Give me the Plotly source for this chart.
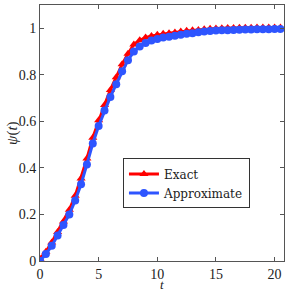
import plotly.graph_objects as go

t = [0, 0.5, 1.0, 1.5, 2.0, 2.5, 3.0, 3.5, 4.0, 4.5, 5.0, 5.5, 6.0, 6.5, 7.0, 7.5,
     8.0, 8.5, 9.0, 9.5, 10.0, 10.5, 11.0, 11.5, 12.0, 12.5, 13.0, 13.5, 14.0, 14.5,
     15.0, 15.5, 16.0, 16.5, 17.0, 17.5, 18.0, 18.5, 19.0, 19.5, 20.0, 20.5]

exact = [0.01, 0.04, 0.08, 0.125, 0.17, 0.22, 0.28, 0.355, 0.44, 0.53, 0.605, 0.67,
         0.735, 0.79, 0.845, 0.89, 0.93, 0.948, 0.96, 0.967, 0.972, 0.976, 0.979,
         0.982, 0.986, 0.989, 0.991, 0.993, 0.996, 0.998, 0.999, 1.0, 1.001, 1.001,
         1.002, 1.002, 1.002, 1.003, 1.003, 1.003, 1.003, 1.003]

approx = [0.0, 0.03, 0.065, 0.11, 0.155, 0.2, 0.26, 0.33, 0.415, 0.505, 0.58, 0.647,
          0.705, 0.76, 0.815, 0.863, 0.9, 0.922, 0.937, 0.947, 0.954, 0.96, 0.964,
          0.968, 0.972, 0.976, 0.979, 0.983, 0.986, 0.988, 0.99, 0.991, 0.992, 0.993,
          0.994, 0.995, 0.995, 0.996, 0.996, 0.996, 0.997, 0.997]

x_ticks = [0, 5, 10, 15, 20]
y_ticks = [0, 0.2, 0.4, 0.6, 0.8, 1]
y_tick_text = ["0", "0.2", "0.4", "0.6", "0.8", "1"]

font_family = "Liberation Serif"

fig = go.Figure()
fig.add_trace(go.Scatter(
    x=t, y=exact, name="Exact", mode="lines+markers",
    line=dict(color="#ff0000", width=3),
    marker=dict(symbol="triangle-up", size=8, color="#ff0000"),
))
fig.add_trace(go.Scatter(
    x=t, y=approx, name="Approximate", mode="lines+markers",
    line=dict(color="#2e55ff", width=3),
    marker=dict(symbol="circle", size=8, color="#2e55ff"),
))

axis_common = dict(
    showline=True, linecolor="#555555", linewidth=1, mirror="ticks",
    ticks="inside", ticklen=4, tickcolor="#555555", showgrid=False, zeroline=False,
    automargin=False,
    tickfont=dict(family=font_family, size=14, color="#222222"),
)

fig.update_layout(
    width=291, height=291,
    margin=dict(l=40, r=7, t=5, b=30),
    paper_bgcolor="white", plot_bgcolor="white",
    showlegend=True,
    legend=dict(
        x=0.34, y=0.303, xanchor="left", yanchor="middle",
        bordercolor="#333333", borderwidth=1, bgcolor="white",
        font=dict(family="DejaVu Serif", size=12, color="#222222"),
        tracegroupgap=0, itemwidth=30,
    ),
    xaxis=dict(range=[0, 20.8], tickvals=x_ticks, **axis_common),
    yaxis=dict(range=[0, 1.1], tickvals=y_ticks, ticktext=y_tick_text, **axis_common),
    annotations=[
        dict(text="<i>t</i>", xref="paper", yref="paper", x=0.5, y=-0.09,
             xanchor="center", yanchor="middle", showarrow=False,
             font=dict(family=font_family, size=13, color="#222222")),
        dict(text="<i>ψ</i>(<i>t</i>)", xref="paper", yref="paper", x=-0.115, y=0.5,
             xanchor="center", yanchor="middle", showarrow=False, textangle=-90,
             font=dict(family=font_family, size=15, color="#222222")),
    ],
)

fig.write_html("out.html", config={"displayModeBar": False},
               post_script="document.body.style.margin='0';")
